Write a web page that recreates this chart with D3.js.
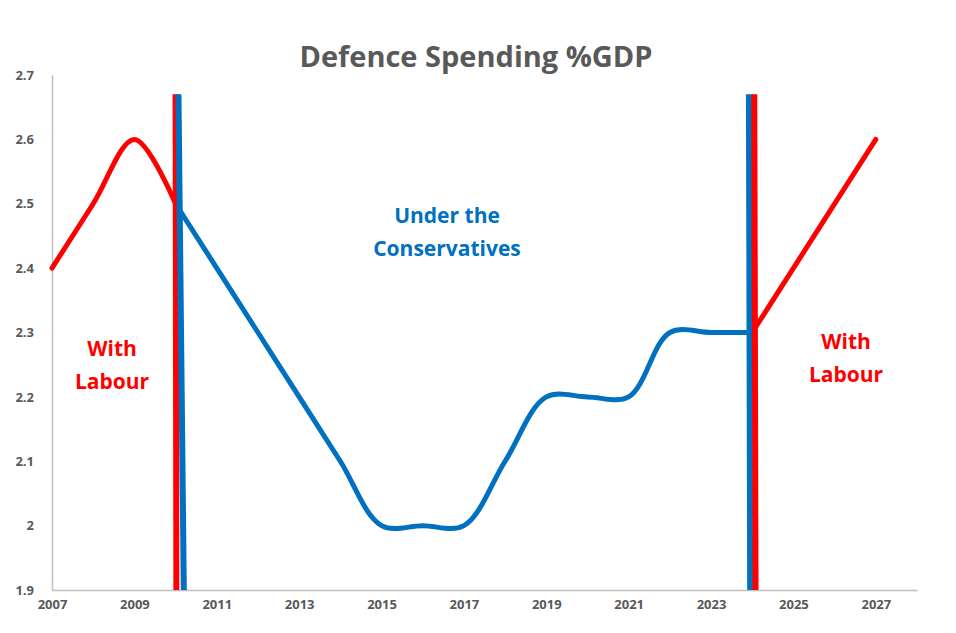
<!DOCTYPE html>
<html><head><meta charset="utf-8">
<script src="https://cdn.jsdelivr.net/npm/d3@7"></script>
<style>body{margin:0;background:#fff;font-family:"Open Sans","Liberation Sans",sans-serif}</style>
</head><body>
<script>
const labourBefore = [[2007,2.4],[2008,2.5],[2009,2.6],[2010,2.5]]
const conservatives = [[2010,2.5],[2011,2.4],[2012,2.3],[2013,2.2],[2014,2.1],[2015,2.0],[2016,2.0],[2017,2.0],[2018,2.1],[2019,2.2],[2020,2.2],[2021,2.2],[2022,2.3],[2023,2.3],[2024,2.3]]
const labourAfter = [[2024,2.3],[2027,2.6]]
// change-of-government markers: [x top, x bottom, colour]
const dividers = [[2010.0,2010.02,"#ff0000"],[2010.07,2010.2,"#0070c0"],[2023.92,2023.95,"#0070c0"],[2024.05,2024.08,"#ff0000"]]
const xTicks = [2007,2009,2011,2013,2015,2017,2019,2021,2023,2025,2027]
const yTicks = [1.9,2,2.1,2.2,2.3,2.4,2.5,2.6,2.7]

const W=956,H=633
const svg=d3.select("body").append("svg").attr("width",W).attr("height",H)
const x=d3.scaleLinear().domain([2007,2028]).range([52,917])
const y=d3.scaleLinear().domain([1.9,2.7]).range([590,75])
const grey="#595959"

svg.append("text").attr("x",476).attr("y",67).attr("text-anchor","middle")
  .style("font-size","29px").style("font-weight","bold").style("fill",grey).text("Defence Spending %GDP")

const xa=svg.append("g").attr("transform","translate(0,590)")
  .call(d3.axisBottom(x).tickValues(xTicks).tickFormat(d3.format("d")).tickSize(0).tickPadding(10))
xa.select(".domain").attr("stroke","#bfbfbf").attr("stroke-width",1.5)
const ya=svg.append("g").attr("transform","translate(52,0)")
  .call(d3.axisLeft(y).tickValues(yTicks).tickFormat(d=>d3.format("")(+d.toFixed(1))).tickSize(0).tickPadding(8))
ya.select(".domain").attr("stroke","#bfbfbf").attr("stroke-width",1.5)
svg.selectAll(".tick text").style("font-size","13px").style("font-weight","bold").style("fill",grey).style("font-family","'Open Sans',sans-serif")
ya.selectAll(".tick text").attr("x",-18)

const line=d3.line().x(d=>x(d[0])).y(d=>y(d[1])).curve(d3.curveCatmullRom.alpha(0.5))
const series=[[labourBefore,"#ff0000"],[conservatives,"#0070c0"],[labourAfter,"#ff0000"]]
svg.selectAll(".s").data(series).join("path").attr("d",d=>line(d[0]))
  .attr("fill","none").attr("stroke",d=>d[1]).attr("stroke-width",5).attr("stroke-linecap","round")

svg.selectAll(".div").data(dividers).join("line")
  .attr("x1",d=>x(d[0])).attr("x2",d=>x(d[1])).attr("y1",y(2.67)).attr("y2",y(1.9))
  .attr("stroke",d=>d[2]).attr("stroke-width",6)

const notes=[[112,348,["With","Labour"],"#ff0000"],[846,341,["With","Labour"],"#ff0000"],[447,215,["Under the","Conservatives"],"#0070c0"]]
notes.forEach(n=>{
  const t=svg.append("text").attr("text-anchor","middle").style("font-size","21px").style("font-weight","bold").style("fill",n[3])
  n[2].forEach((s,i)=>t.append("tspan").attr("x",n[0]).attr("y",n[1]+8+i*33).text(s))
})
</script>
</body></html>
